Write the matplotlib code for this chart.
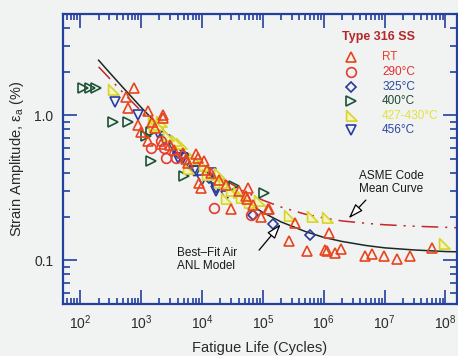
import matplotlib
matplotlib.use("Agg")
import matplotlib.pyplot as plt
from matplotlib.ticker import LogLocator, NullFormatter, FixedLocator, FixedFormatter
from matplotlib.path import Path

plt.rcParams['font.family'] = ['Liberation Sans', 'DejaVu Sans']
plt.rcParams['mathtext.fontset'] = 'custom'
plt.rcParams['mathtext.rm'] = 'Liberation Sans'
plt.rcParams['mathtext.it'] = 'Liberation Sans:italic'
plt.rcParams['lines.scale_dashes'] = False

# --- data (cycles, strain amplitude %) ---
rt_n = [752, 555, 599, 1280, 2267, 2267, 875, 981, 1280, 2100, 4855, 7960, 5445, 8590,
        10790, 8920, 9620, 14090, 19100, 57600, 53400, 30150, 123000, 94400, 128000,
        55500, 264000, 524000, 332000, 1210000, 1120000, 1040000, 1520000, 1910000,
        4760000, 6210000, 9800000, 16100000, 26400000, 61000000,
        1500, 1700, 3000, 3500, 6000, 12000, 25000, 40000, 70000]
rt_e = [1.54, 1.33, 1.12, 1.08, 1.0, 0.953, 0.852, 0.762, 0.67, 0.639, 0.553, 0.545, 0.503, 0.511,
        0.487, 0.343, 0.316, 0.40, 0.36, 0.316, 0.278, 0.226, 0.226, 0.199, 0.226,
        0.265, 0.136, 0.1155, 0.181, 0.154, 0.1155, 0.117, 0.112, 0.119,
        0.108, 0.110, 0.108, 0.1016, 0.108, 0.121,
        0.90, 0.82, 0.62, 0.58, 0.47, 0.42, 0.33, 0.30, 0.24]

c290_n = [2540, 2355, 3717, 2100, 15790, 64600, 1436]
c290_e = [0.511, 0.600, 0.511, 0.670, 0.230, 0.205, 0.60]

c325_n = [145000, 588000, 69700, 13060, 4010]
c325_e = [0.178, 0.149, 0.205, 0.37, 0.55]

c400_n = [112, 146, 184, 351, 599, 1436, 1186, 1436, 106000, 33800, 5040]
c400_e = [1.54, 1.54, 1.54, 0.894, 0.894, 0.487, 0.726, 0.762, 0.292, 0.327, 0.383]

c427_n = [351, 1549, 2100, 1610, 4500, 1875, 3717, 5870, 19100, 19100, 23100, 39400,
          44200, 24950, 87500, 264000, 634000, 1120000, 96000000, 7380, 10790,
          2800, 12000, 30000, 60000]
c427_e = [1.49, 0.880, 0.894, 0.825, 0.639, 0.852, 0.670, 0.428, 0.343, 0.396, 0.343, 0.292,
          0.270, 0.265, 0.257, 0.202, 0.199, 0.196, 0.129, 0.50, 0.45,
          0.72, 0.39, 0.30, 0.25]

c456_n = [379, 875, 1875, 3445, 4010, 4855, 7380, 7960, 14090, 15210, 17040, 17040,
          2500, 5500, 10000, 25000]
c456_e = [1.23, 1.0, 0.750, 0.600, 0.511, 0.511, 0.415, 0.415, 0.402, 0.354, 0.316, 0.301,
          0.68, 0.47, 0.36, 0.28]

# best-fit ANL model and ASME mean curve
anl_n = [200, 300, 500, 1e3, 2e3, 5e3, 1e4, 2e4, 5e4, 1e5, 2e5, 5e5, 1e6, 2e6, 5e6, 1e7, 3e7, 1e8, 1.5e8]
anl_e = [2.40, 1.98, 1.56, 1.135, 0.836, 0.570, 0.436, 0.341, 0.257, 0.214, 0.184, 0.158,
         0.144, 0.135, 0.1265, 0.122, 0.118, 0.115, 0.1146]
asme_n = [200, 500, 1e3, 2e3, 5e3, 1e4, 2e4, 5e4, 1e5, 2e5, 5e5, 1e6, 2e6, 5e6, 1e7, 3e7, 1e8, 1.5e8]
asme_e = [2.16, 1.44, 1.07, 0.809, 0.575, 0.457, 0.373, 0.298, 0.260, 0.233, 0.208, 0.196,
          0.187, 0.180, 0.176, 0.172, 0.169, 0.168]

BLUE = '#23409c'
BG = '#f1f2f2'

# right-angled triangle marker used for 427-430 C
tri_r = Path([(-0.75, -0.7), (0.85, -0.7), (-0.75, 0.9), (-0.75, -0.7)],
             [Path.MOVETO, Path.LINETO, Path.LINETO, Path.CLOSEPOLY])

series = [
    ('400°C', c400_n, c400_e, '>', '#1e5234', 'none', 7.5, '#1e4a30'),
    ('456°C', c456_n, c456_e, 'v', '#2a3ca0', 'none', 7.5, '#2a4aa0'),
    ('325°C', c325_n, c325_e, 'D', '#2a3a9a', 'none', 5.5, '#2a4a9c'),
    ('427-430°C', c427_n, c427_e, tri_r, '#d6d628', '#f3f3c4', 8.5, '#e2e23a'),
    ('290°C', c290_n, c290_e, 'o', '#e63a30', 'none', 7, '#e03030'),
    ('RT', rt_n, rt_e, '^', '#e8441e', 'none', 7.5, '#e8402a'),
]

fig = plt.figure(figsize=(4.58, 3.56), dpi=100, facecolor=BG)
ax = fig.add_axes([63 / 458, 52 / 356, 394 / 458, 290 / 356], facecolor=BG)

ax.plot(asme_n, asme_e, color='#c4262c', lw=1.1, dashes=[12, 5, 1.5, 5, 1.5, 5], zorder=2)
ax.plot(anl_n, anl_e, color='#1a2a22', lw=1.1, zorder=2)

for name, xs, ys, mk, ec, fc, ms, tc in series:
    ax.plot(xs, ys, ls='none', marker=mk, ms=ms, mec=ec, mfc=fc, mew=1.2, zorder=3)

ax.set_xscale('log')
ax.set_yscale('log')
ax.set_xlim(52, 1.55e8)
ax.set_ylim(0.05, 5.0)

ax.xaxis.set_major_locator(FixedLocator([1e2, 1e3, 1e4, 1e5, 1e6, 1e7, 1e8]))
ax.xaxis.set_major_formatter(FixedFormatter(['$10^{%d}$' % k for k in range(2, 9)]))
ax.xaxis.set_minor_locator(LogLocator(base=10, subs=range(2, 10), numticks=20))
ax.xaxis.set_minor_formatter(NullFormatter())
ax.yaxis.set_major_locator(FixedLocator([0.1, 1.0]))
ax.yaxis.set_major_formatter(FixedFormatter(['0.1', '1.0']))
ax.yaxis.set_minor_locator(LogLocator(base=10, subs=range(2, 10), numticks=20))
ax.yaxis.set_minor_formatter(NullFormatter())

for s in ax.spines.values():
    s.set_color(BLUE)
    s.set_linewidth(1.6)
ax.tick_params(which='both', direction='in', top=True, right=True, color=BLUE,
               width=1.2, labelsize=10, labelcolor='#2a2a2a')
ax.tick_params(which='major', length=10, pad=7)
ax.tick_params(axis='x', which='minor', length=4)
ax.tick_params(axis='y', which='minor', length=5)

ax.set_xlabel('Fatigue Life (Cycles)', fontsize=10.5, color='#2a2a2a', labelpad=6)
ax.set_ylabel('Strain Amplitude, ε$_\\mathrm{a}$ (%)', fontsize=10.5, color='#2a2a2a', labelpad=6)

# legend drawn by hand
ax.text(0.800, 0.921, 'Type 316 SS', transform=ax.transAxes, ha='center', va='center',
        fontsize=9, fontweight='bold', color='#b4282c')
rows = {'RT': 0.852, '290°C': 0.800, '325°C': 0.748, '400°C': 0.700, '427-430°C': 0.648, '456°C': 0.600}
for name, xs, ys, mk, ec, fc, ms, tc in series:
    yy = rows[name]
    ax.plot([0.731], [yy], transform=ax.transAxes, ls='none', marker=mk, ms=ms,
            mec=ec, mfc=fc, mew=1.2, clip_on=False)
    ax.text(0.810, yy, name, transform=ax.transAxes, ha='left', va='center',
            fontsize=8.5, color=tc)

# curve labels with open arrows
ax.text(3.8e6, 0.345, 'ASME Code\nMean Curve', ha='left', va='center', fontsize=8.5,
        color='#1a1a1a', linespacing=1.1)
ax.annotate('', xy=(2.4e6, 0.189), xytext=(5.3e6, 0.269),
            arrowprops=dict(arrowstyle='-|>,head_length=0.9,head_width=0.3',
                            fc='white', ec='black', lw=0.9))
ax.text(3865, 0.101, 'Best–Fit Air\nANL Model', ha='left', va='center', fontsize=8.5,
        color='#1a1a1a', linespacing=1.1)
ax.annotate('', xy=(2.1e5, 0.1835), xytext=(8.1e4, 0.1137),
            arrowprops=dict(arrowstyle='-|>,head_length=0.9,head_width=0.3',
                            fc='white', ec='black', lw=0.9))

fig.savefig('out.png', dpi=100, facecolor=fig.get_facecolor())
plt.close(fig)
